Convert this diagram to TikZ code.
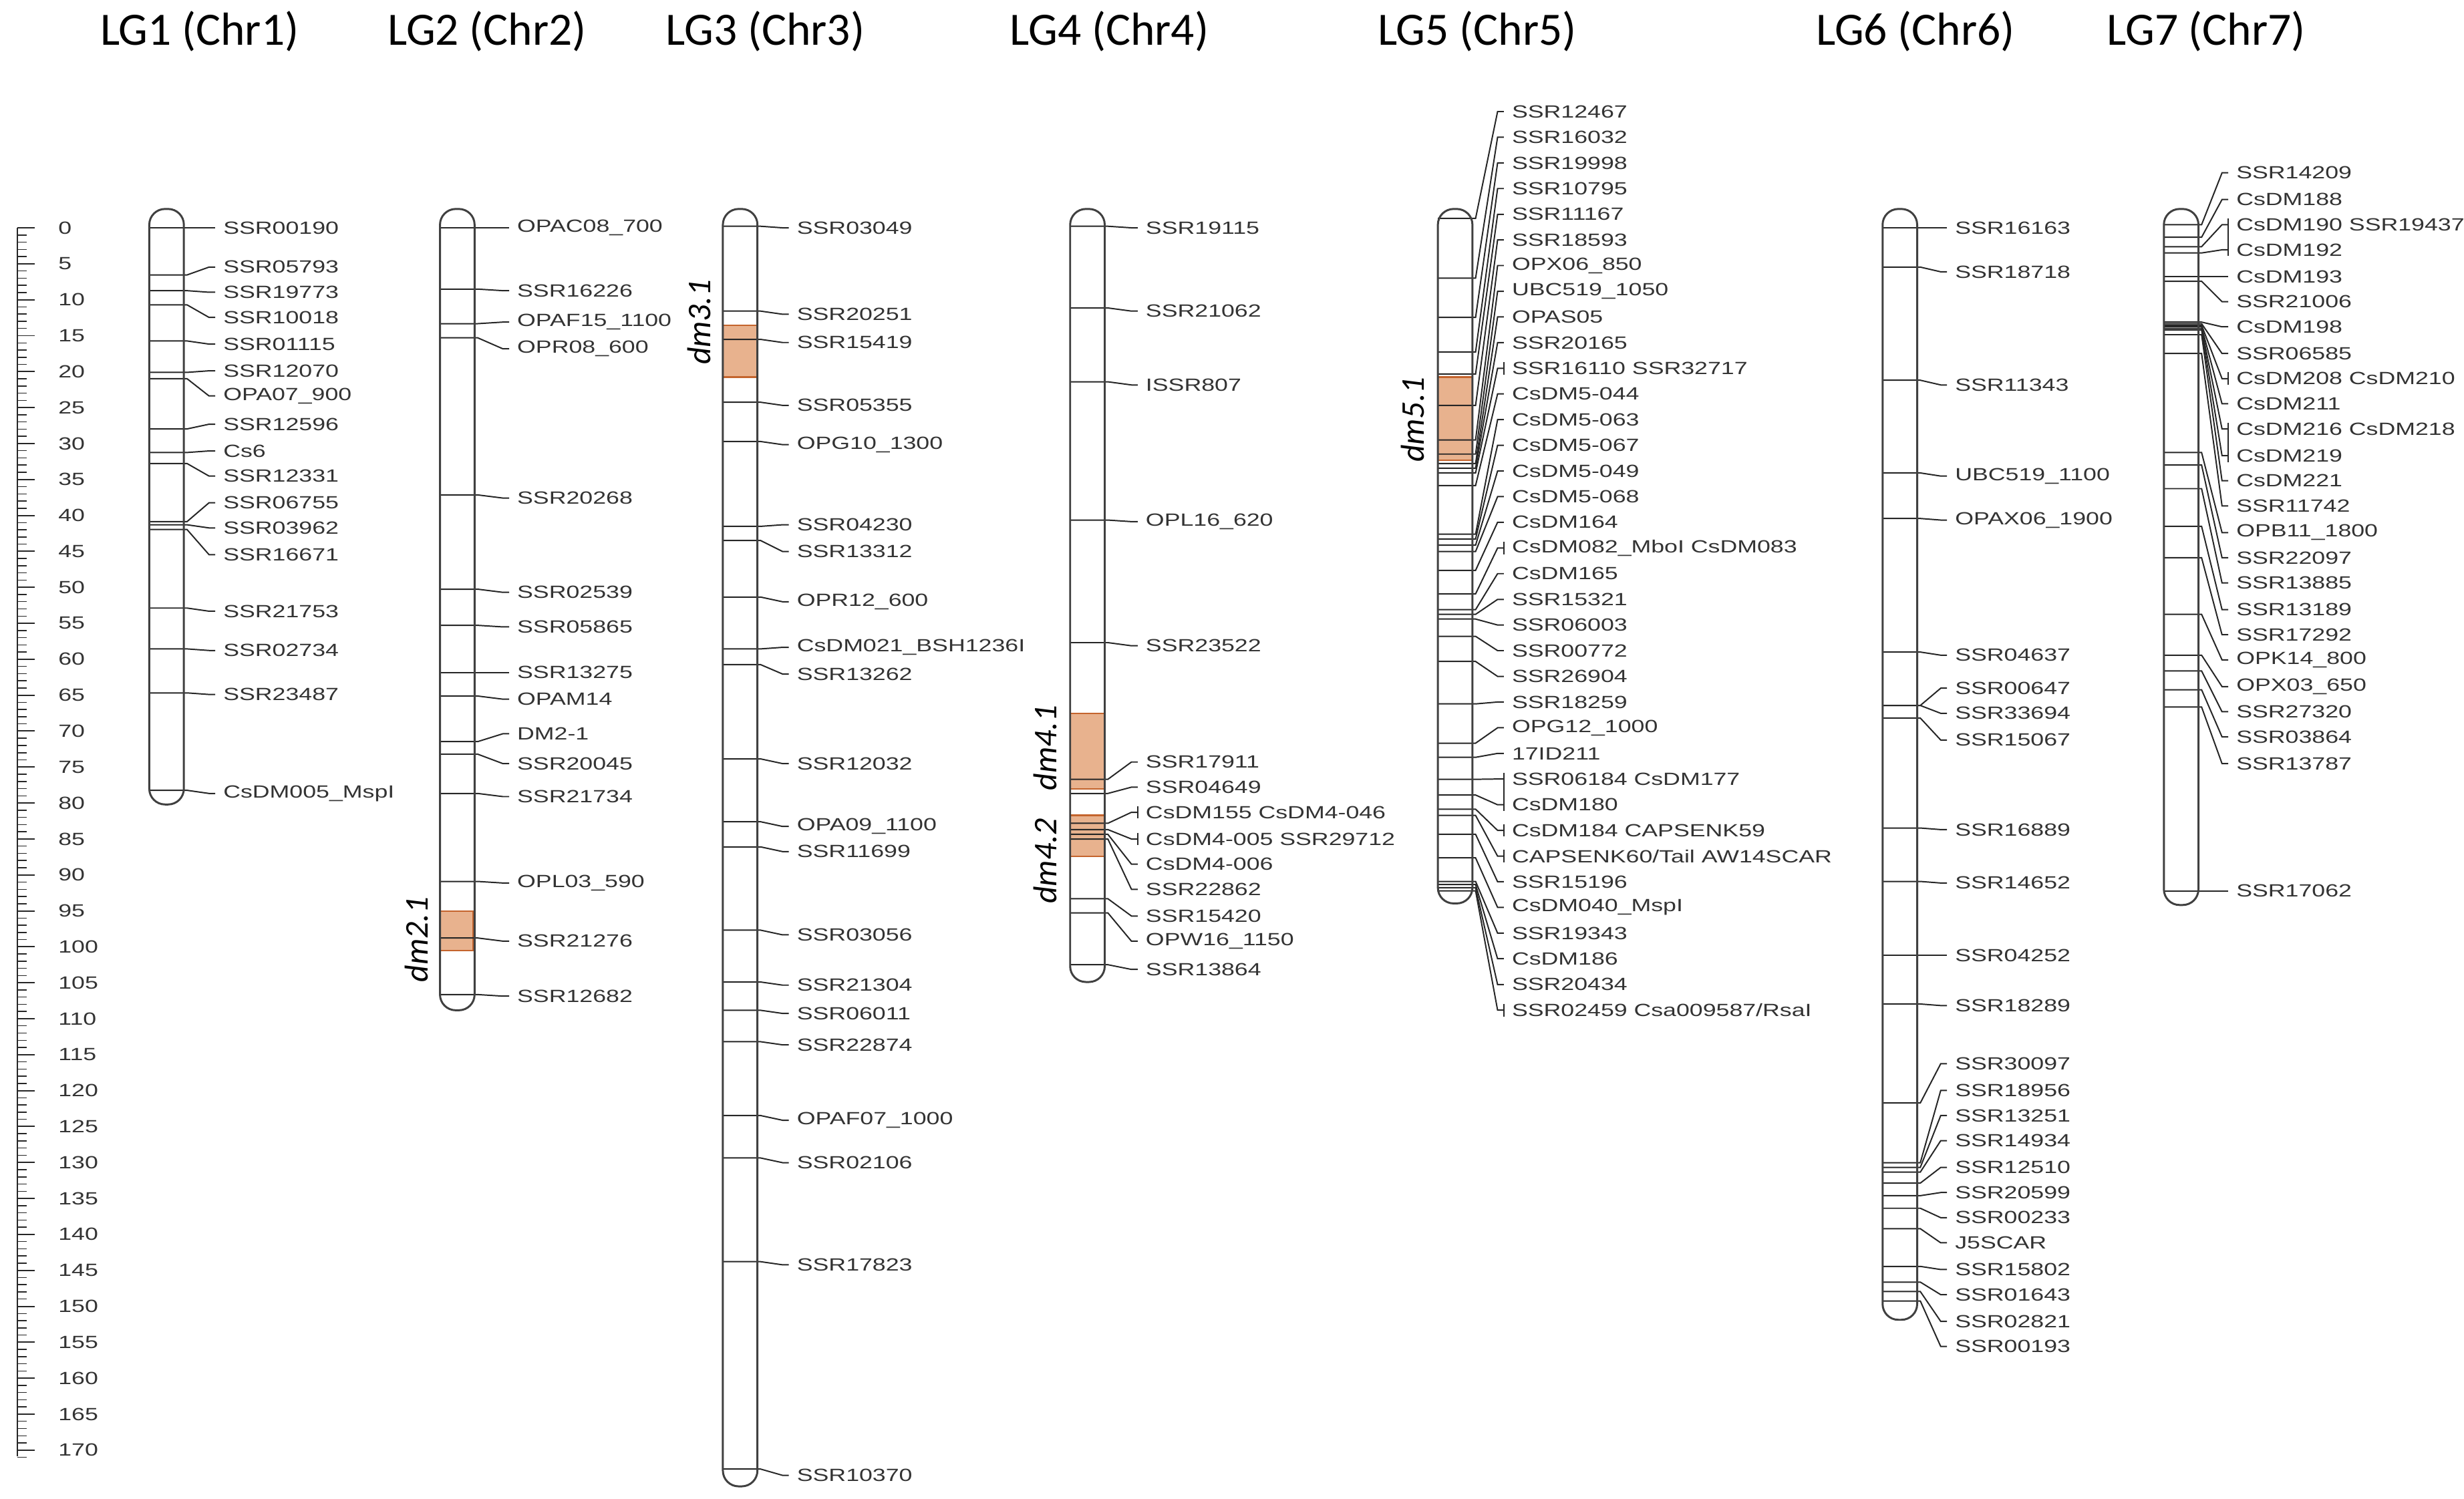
\documentclass[tikz,border=0pt]{standalone}
\usepackage{fontspec}
\setmainfont{Liberation Sans}
\newfontfamily\lblf{Liberation Sans}[FakeStretch=1.35]
\newfontfamily\ttlf{Carlito}
\begin{document}
\begin{tikzpicture}[x=0.05cm,y=-0.05cm,
  chrom/.style={draw=black!75,line width=1.8pt,rounded corners=0.5cm},
  mk/.style={draw=black!85,line width=1.2pt},
  lbl/.style={anchor=west,inner sep=0pt,font=\lblf\fontsize{16}{18}\selectfont,text=black!80},
  ttl/.style={inner sep=0pt,font=\ttlf\fontsize{42}{48}\selectfont},
  dm/.style={inner sep=0pt,rotate=90,font=\ttlf\itshape\fontsize{30}{34}\selectfont},
  qtl/.style={fill={rgb,255:red,232;green,178;blue,142},draw={rgb,255:red,196;green,100;blue,45},line width=1.5pt},
  rnum/.style={anchor=west,inner sep=0pt,font=\lblf\fontsize{16}{18}\selectfont,text=black!80}]
\newcounter{mkc}
\newcommand\chromo[5]{%
  \foreach \m/\l/\t in {#5}{%
    \draw[mk] (#1,\m) -- (#1+22,\m) -- (#1+24,\m) -- (#4-9,\l) -- (#4-5,\l);
    \stepcounter{mkc}%
    \node[lbl] (mk\arabic{mkc}) at (#4,\l) {\t};
  }%
  \draw[chrom] (#1,#2) rectangle (#1+22,#3);
}
\newcommand\tickbar[2]{\draw[mk] (#1-5,#2-4) -- (#1-5,#2+4);}
\newcommand\tickbarr[3]{\draw[mk] (#1-5,#2-4) -- (#1-5,#3+4);}
\def\sl{/}
\useasboundingbox (0,0) rectangle (1568,954);
% ruler
\draw[mk] (11,145) -- (11,927);
\foreach \v in {0,...,171}{\draw[mk,line width=0.9pt] (11,{145+4.576*\v}) -- (17,{145+4.576*\v});}
\foreach \v in {0,5,...,170}{\draw[mk] (11,{145+4.576*\v}) -- (22,{145+4.576*\v});
  \node[rnum] (r\v) at (37,{145+4.576*\v}) {\v};}
% titles
\node[ttl] (t1) at (127,20) {LG1 (Chr1)};
\node[ttl] (t2) at (310,20) {LG2 (Chr2)};
\node[ttl] (t3) at (487,20) {LG3 (Chr3)};
\node[ttl] (t4) at (706,20) {LG4 (Chr4)};
\node[ttl] (t5) at (940,20) {LG5 (Chr5)};
\node[ttl] (t6) at (1219,20) {LG6 (Chr6)};
\node[ttl] (t7) at (1404,20) {LG7 (Chr7)};
% QTL boxes
\draw[qtl] (280,580) rectangle (301,605);
\draw[qtl] (460,207) rectangle (482,240);
\draw[qtl] (681,454) rectangle (703,502);
\draw[qtl] (681,519) rectangle (703,545);
\draw[qtl] (915,240) rectangle (937,293);
\node[dm] (d21) at (265,598) {dm2.1};
\node[dm] (d31) at (445,205) {dm3.1};
\node[dm] (d41) at (665,476) {dm4.1};
\node[dm] (d42) at (665,548) {dm4.2};
\node[dm] (d51) at (899,267) {dm5.1};
% LG1
\chromo{95}{133}{512}{142}{145/145/SSR00190,175/170/SSR05793,185/186/SSR19773,194/202/SSR10018,217/219/SSR01115,237/236/SSR12070,241/252/OPA07\_900,273/270/SSR12596,288/287/Cs6,295/303/SSR12331,332/320/SSR06755,334/336/SSR03962,337/353/SSR16671,387/389/SSR21753,413/414/SSR02734,441/442/SSR23487,503/505/CsDM005\_MspI}
% LG2
\chromo{280}{133}{643}{329}{145/145/OPAC08\_700,184/185/SSR16226,206/205/OPAF15\_1100,215/222/OPR08\_600,315/317/SSR20268,375/377/SSR02539,398/399/SSR05865,428/428/SSR13275,443/445/OPAM14,472/467/DM2-1,480/486/SSR20045,505/507/SSR21734,561/562/OPL03\_590,597/599/SSR21276,633/634/SSR12682}
% LG3
\chromo{460}{133}{946}{507}{144/145/SSR03049,198/200/SSR20251,216/218/SSR15419,256/258/SSR05355,281/283/OPG10\_1300,335/334/SSR04230,344/351/SSR13312,380/383/OPR12\_600,413/412/CsDM021\_BSH1236I,423/429/SSR13262,483/486/SSR12032,523/526/OPA09\_1100,539/542/SSR11699,592/595/SSR03056,625/627/SSR21304,643/645/SSR06011,663/665/SSR22874,710/713/OPAF07\_1000,737/740/SSR02106,803/805/SSR17823,935/939/SSR10370}
% LG4
\chromo{681}{133}{625}{729}{144/145/SSR19115,196/198/SSR21062,243/245/ISSR807,331/332/OPL16\_620,409/411/SSR23522,496/485/SSR17911,505/501/SSR04649,524/517/CsDM155 CsDM4-046,528/534/CsDM4-005 SSR29712,531/550/CsDM4-006,534/566/SSR22862,572/583/SSR15420,581/599/OPW16\_1150,614/617/SSR13864}
\tickbar{729}{517}\tickbar{729}{534}
% LG5
\chromo{915}{133}{575}{962}{139/71/SSR12467,177/87.3/SSR16032,202/103.7/SSR19998,224/120/SSR10795,238/136.4/SSR11167,258/152.7/SSR18593,280/169/OPX06\_850,289/185.4/UBC519\_1050,295/201.7/OPAS05,298/218.1/SSR20165,301/234.4/SSR16110 SSR32717,309/250.7/CsDM5-044,340/267.1/CsDM5-063,343/283.4/CsDM5-067,347/299.8/CsDM5-049,351/316.1/CsDM5-068,363/332.4/CsDM164,378/348.8/CsDM082\_MboI CsDM083,388/365.1/CsDM165,391/381.5/SSR15321,394/397.8/SSR06003,405/414.1/SSR00772,421/430.5/SSR26904,448/446.8/SSR18259,473/463.2/OPG12\_1000,482/479.5/17ID211,496/495.8/SSR06184 CsDM177,506/512.2/CsDM180,515/528.5/CsDM184 CAPSENK59,519/544.9/CAPSENK60\sl Tail AW14SCAR,531/561.2/SSR15196,546/577.5/CsDM040\_MspI,561/593.9/SSR19343,563/610.2/CsDM186,565/626.6/SSR20434,567/642.9/SSR02459 Csa009587\sl RsaI}
\tickbar{962}{234.4}\tickbar{962}{348.8}\tickbarr{962}{495.8}{512.2}\tickbar{962}{528.5}\tickbar{962}{544.9}\tickbar{962}{642.9}
% LG6
\chromo{1198}{133}{840}{1244}{145/145/SSR16163,170/173/SSR18718,242/245/SSR11343,301/303/UBC519\_1100,330/331/OPAX06\_1900,415/417/SSR04637,449/438/SSR00647,449/454/SSR33694,457/471/SSR15067,527/528/SSR16889,561/562/SSR14652,608/608/SSR04252,639/640/SSR18289,702/677/SSR30097,740/694/SSR18956,743/710/SSR13251,746/726/SSR14934,753/743/SSR12510,761/759/SSR20599,769/775/SSR00233,782/791/J5SCAR,806/808/SSR15802,816/824/SSR01643,822/841/SSR02821,828/857/SSR00193}
% LG7
\chromo{1377}{133}{576}{1423}{143/110/SSR14209,151/127/CsDM188,157/143/CsDM190 SSR19437,161/159/CsDM192,176/176/CsDM193,179/192/SSR21006,205/208/CsDM198,206/225/SSR06585,207/241/CsDM208 CsDM210,208/257/CsDM211,209/273/CsDM216 CsDM218,210/290/CsDM219,213/306/CsDM221,225/322/SSR11742,288/339/OPB11\_1800,296/355/SSR22097,311/371/SSR13885,335/388/SSR13189,355/404/SSR17292,391/420/OPK14\_800,417/437/OPX03\_650,427/453/SSR27320,439/469/SSR03864,450/486/SSR13787,567/567/SSR17062}
\tickbarr{1423}{143}{159}\tickbar{1423}{241}\tickbarr{1423}{273}{290}
\end{tikzpicture}
\end{document}
